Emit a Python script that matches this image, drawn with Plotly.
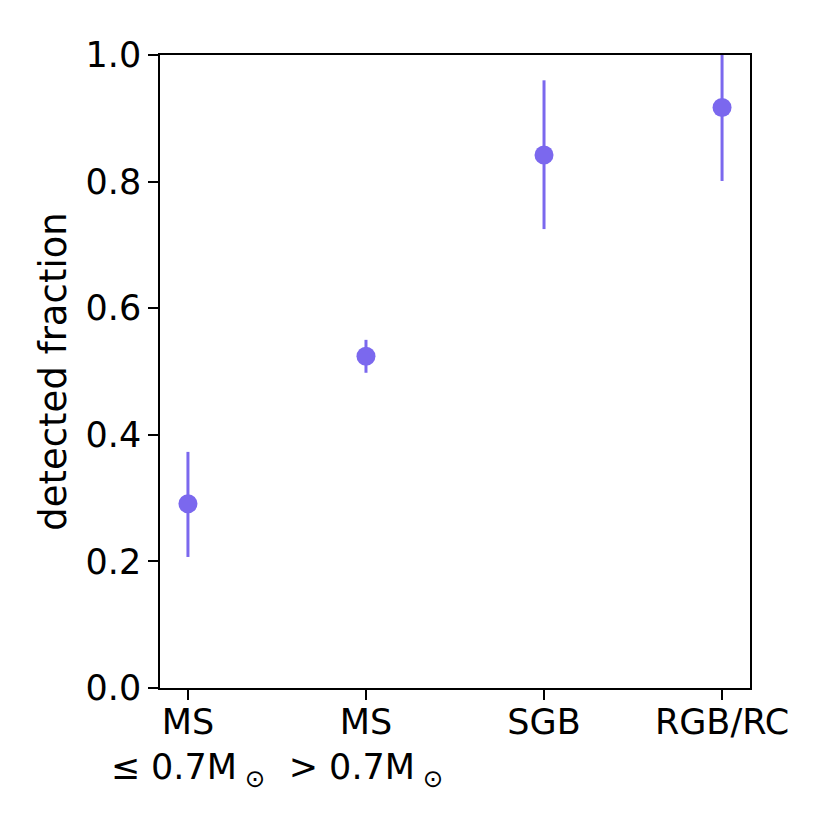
import plotly.graph_objects as go

# data
categories = ["MS<br>≤ 0.7M<sub> ⊙</sub>", "MS<br>> 0.7M<sub> ⊙</sub>", "SGB", "RGB/RC"]
x_pos = [0, 1, 2, 3]
fraction = [0.291, 0.524, 0.842, 0.917]
err_plus = [0.082, 0.026, 0.118, 0.085]
err_minus = [0.084, 0.026, 0.117, 0.116]
y_ticks = [0.0, 0.2, 0.4, 0.6, 0.8, 1.0]

color = "#7B68EE"
tick_font = dict(family="DejaVu Sans", size=35, color="black")

fig = go.Figure(go.Scatter(
    x=x_pos,
    y=fraction,
    mode="markers",
    marker=dict(color=color, size=19),
    error_y=dict(
        type="data",
        symmetric=False,
        array=err_plus,
        arrayminus=err_minus,
        color=color,
        thickness=3,
        width=0,
    ),
))

# page body has an 8px margin, so shift the plot area up/left by that
fig.update_layout(
    width=830,
    height=830,
    margin=dict(l=152, r=88, t=47, b=150),
    plot_bgcolor="white",
    paper_bgcolor="white",
    font=dict(family="DejaVu Sans", size=31, color="black"),
    showlegend=False,
)

fig.update_xaxes(
    range=[-0.157, 3.157],
    tickvals=x_pos,
    ticktext=categories,
    tickfont=tick_font,
    ticks="outside",
    ticklen=10,
    tickwidth=1.5,
    tickcolor="black",
    ticklabelstandoff=-8,
    showline=True,
    linecolor="black",
    linewidth=1.5,
    mirror=True,
    showgrid=False,
    zeroline=False,
)

fig.update_yaxes(
    range=[0, 1],
    tickvals=y_ticks,
    ticktext=[f"{v:.1f}" for v in y_ticks],
    tickfont=tick_font,
    ticks="outside",
    ticklen=10,
    tickwidth=1.5,
    tickcolor="black",
    showline=True,
    linecolor="black",
    linewidth=1.5,
    mirror=True,
    showgrid=False,
    zeroline=False,
    title=dict(text="detected fraction", standoff=8),
)

fig.write_html("out.html")
